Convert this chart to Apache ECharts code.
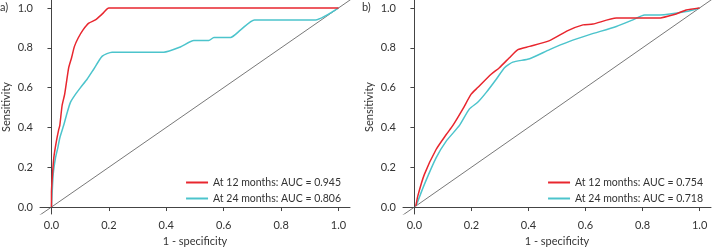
<!DOCTYPE html>
<html>
<head>
<meta charset="utf-8">
<script src="https://cdn.jsdelivr.net/npm/echarts@6/dist/echarts.min.js"></script>
<style>
  html, body { margin: 0; padding: 0; background: #fff; }
  #roc { width: 712px; height: 252px; }
</style>
</head>
<body>
<div id="roc"></div>
<script>
// ROC 曲线数据 [1-specificity, sensitivity]
var ticks = [0, 0.2, 0.4, 0.6, 0.8, 1.0];
var namesA = ['At 12 months: AUC = 0.945', 'At 24 months: AUC = 0.806'];
var namesB = ['At 12 months: AUC = 0.754', 'At 24 months: AUC = 0.718'];

var a12 = [[0,0],[0,0.073],[0.002,0.13],[0.008,0.247],[0.017,0.33],[0.025,0.388],[0.029,0.41],
  [0.037,0.51],[0.046,0.567],[0.06,0.70],[0.07,0.75],[0.08,0.807],[0.093,0.849],[0.11,0.89],
  [0.13,0.924],[0.153,0.94],[0.177,0.97],[0.2,1.0],[1.0,1.0]];
var a24 = [[0,0],[0.006,0.164],[0.014,0.247],[0.022,0.297],[0.029,0.347],[0.043,0.413],
  [0.055,0.476],[0.066,0.526],[0.084,0.567],[0.101,0.60],[0.124,0.642],[0.147,0.692],
  [0.177,0.758],[0.211,0.778],[0.391,0.778],[0.449,0.804],[0.496,0.836],[0.548,0.836],
  [0.566,0.852],[0.624,0.852],[0.659,0.89],[0.707,0.94],[0.92,0.94],[1.0,1.0]];
var b12 = [[0.005,0.005],[0.012,0.056],[0.035,0.164],[0.076,0.289],[0.111,0.363],[0.135,0.41],
  [0.17,0.493],[0.199,0.567],[0.222,0.60],[0.269,0.667],[0.298,0.70],[0.333,0.75],[0.363,0.791],
  [0.404,0.807],[0.474,0.836],[0.538,0.886],[0.591,0.915],[0.626,0.919],[0.708,0.949],
  [0.854,0.949],[0.918,0.97],[0.953,0.99],[1.0,1.0]];
var b24 = [[0.006,0.007],[0.035,0.114],[0.076,0.247],[0.111,0.33],[0.158,0.41],[0.193,0.493],
  [0.222,0.526],[0.252,0.576],[0.287,0.642],[0.316,0.70],[0.345,0.728],[0.404,0.745],
  [0.474,0.791],[0.544,0.832],[0.614,0.866],[0.708,0.907],[0.766,0.94],[0.807,0.965],
  [0.86,0.965],[0.953,0.982],[1.0,1.0]];
var diag = [[-0.1,-0.1],[1.1,1.1]];

var red = '#e8262e', cyan = '#4cc4cc', axisCol = '#444', txt = '#333';
var font = 'Lato';

function xAx(idx){
    return {
        type:'value', gridIndex:idx, min:-0.04, max:1.04,
        name:'1 - specificity', nameLocation:'middle', nameGap:22,
        nameTextStyle:{color:txt, fontSize:11, fontFamily:font},
        axisLine:{lineStyle:{color:axisCol, width:1}},
        axisTick:{show:true, length:4, customValues:ticks, lineStyle:{color:axisCol}},
        axisLabel:{customValues:ticks, color:txt, fontSize:11, fontFamily:font, margin:6,
            formatter:function(v){ return v.toFixed(1); }},
        splitLine:{show:false}
    };
}
function yAx(idx){
    return {
        type:'value', gridIndex:idx, min:-0.035, max:1.04,
        name:'Sensitivity', nameLocation:'middle', nameGap:28,
        nameTextStyle:{color:txt, fontSize:11, fontFamily:font},
        axisLine:{show:true, lineStyle:{color:axisCol, width:1}},
        axisTick:{show:true, length:4, customValues:ticks, lineStyle:{color:axisCol}},
        axisLabel:{customValues:ticks, color:txt, fontSize:11, fontFamily:font, margin:7,
            formatter:function(v){ return v.toFixed(1); }},
        splitLine:{show:false}
    };
}
function curve(name, data, idx, color){
    return {
        name:name, type:'line', xAxisIndex:idx, yAxisIndex:idx, data:data,
        symbol:'none', smooth:0.2, lineStyle:{color:color, width:1.5},
        itemStyle:{color:color}, animation:false
    };
}
function diagonal(idx){
    return {
        type:'line', xAxisIndex:idx, yAxisIndex:idx, data:diag, symbol:'none',
        lineStyle:{color:'#555', width:0.8}, clip:true, silent:true, animation:false
    };
}
function legendAt(right, names){
    return {
        orient:'vertical', right:right, top:177, data:names, icon:'rect',
        itemWidth:22, itemHeight:2, itemGap:5, selectedMode:false, padding:0,
        textStyle:{color:txt, fontSize:10.5, fontFamily:font}
    };
}

var option = {
    backgroundColor:'#fff',
    animation:false,
    grid:[
        {left:40, top:0, width:310, height:216},
        {left:403, top:0, width:308, height:216}
    ],
    xAxis:[xAx(0), xAx(1)],
    yAxis:[yAx(0), yAx(1)],
    legend:[legendAt(371, namesA), legendAt(9, namesB)],
    graphic:[
        {type:'text', left:0, top:2, style:{text:'a)', fill:txt, font:'11px Lato'}},
        {type:'text', left:362, top:2, style:{text:'b)', fill:txt, font:'11px Lato'}}
    ],
    series:[
        diagonal(0),
        curve(namesA[1], a24, 0, cyan),
        curve(namesA[0], a12, 0, red),
        diagonal(1),
        curve(namesB[1], b24, 1, cyan),
        curve(namesB[0], b12, 1, red)
    ]
};
var myChart = echarts.init(document.getElementById('roc'));
myChart.setOption(option);
</script>
</body>
</html>
